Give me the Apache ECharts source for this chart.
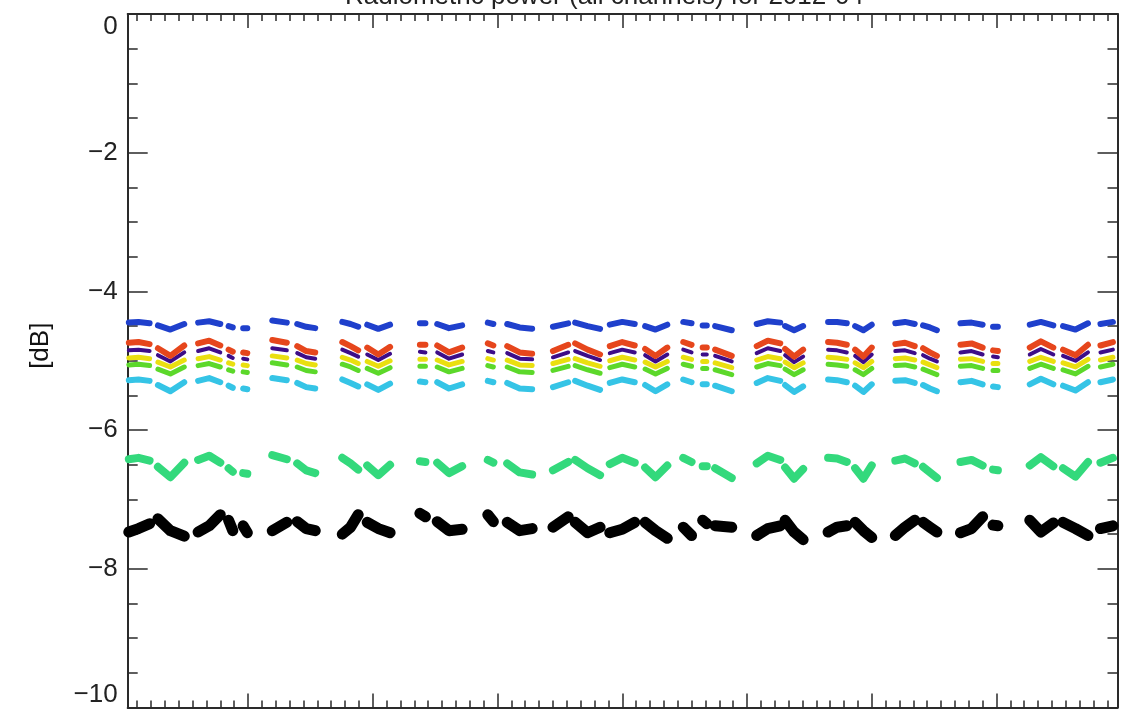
<!DOCTYPE html>
<html>
<head>
<meta charset="utf-8">
<script src="https://cdn.jsdelivr.net/npm/echarts@6/dist/echarts.min.js"></script>
<style>
html,body{margin:0;padding:0;background:#fff;}
#chart{width:1121px;height:709px;}
</style>
</head>
<body>
<div id="chart"></div>
<script>
// x positions (segments separated by null = data gaps)
const xs = [
0.4,1.1,1.9,null,
2.5,3.4,4.4,null,
5.4,6.2,7.0,null,
7.6,7.9,null,
8.65,8.95,null,
10.75,11.8,null,
12.55,13.2,13.85,null,
15.8,16.4,16.95,null,
17.6,18.4,19.25,null,
21.4,21.8,null,
22.65,23.5,24.45,null,
26.3,26.7,null,
27.7,28.6,29.5,null,
31.0,32.1,null,
32.6,33.5,34.4,null,
35.1,36.0,36.9,null,
37.65,38.4,39.25,null,
40.4,41.0,null,
41.8,42.1,null,
42.7,43.9,null,
45.7,46.5,47.4,null,
47.75,48.4,49.05,null,
50.85,51.5,52.2,null,
52.8,53.4,54.0,null,
55.7,56.4,57.1,null,
57.7,58.2,58.7,null,
60.4,61.2,62.0,null,
62.75,63.1,null,
65.4,66.2,67.1,null,
67.8,68.7,69.6,null,
70.5,71.4];

const blueVals = [
-4.45,-4.44,-4.46,null,
-4.49,-4.55,-4.47,null,
-4.45,-4.43,-4.47,null,
-4.50,-4.52,null,
-4.53,-4.53,null,
-4.42,-4.45,null,
-4.47,-4.51,-4.53,null,
-4.44,-4.47,-4.51,null,
-4.48,-4.54,-4.48,null,
-4.46,-4.46,null,
-4.47,-4.53,-4.49,null,
-4.45,-4.47,null,
-4.47,-4.52,-4.54,null,
-4.51,-4.46,null,
-4.45,-4.50,-4.54,null,
-4.48,-4.44,-4.47,null,
-4.50,-4.55,-4.48,null,
-4.44,-4.46,null,
-4.49,-4.49,null,
-4.50,-4.56,null,
-4.47,-4.43,-4.45,null,
-4.50,-4.56,-4.50,null,
-4.44,-4.44,-4.46,null,
-4.50,-4.56,-4.48,null,
-4.46,-4.44,-4.47,null,
-4.49,-4.52,-4.56,null,
-4.46,-4.45,-4.48,null,
-4.51,-4.51,null,
-4.48,-4.44,-4.49,null,
-4.50,-4.55,-4.46,null,
-4.47,-4.44];

const redVals = [
-4.74,-4.73,-4.76,null,
-4.82,-4.93,-4.78,null,
-4.75,-4.71,-4.78,null,
-4.84,-4.87,null,
-4.88,-4.89,null,
-4.70,-4.74,null,
-4.79,-4.86,-4.88,null,
-4.73,-4.79,-4.85,null,
-4.81,-4.91,-4.80,null,
-4.77,-4.77,null,
-4.78,-4.88,-4.81,null,
-4.75,-4.78,null,
-4.79,-4.88,-4.90,null,
-4.86,-4.77,null,
-4.75,-4.84,-4.91,null,
-4.79,-4.73,-4.78,null,
-4.83,-4.93,-4.81,null,
-4.73,-4.77,null,
-4.81,-4.81,null,
-4.84,-4.93,null,
-4.79,-4.71,-4.75,null,
-4.83,-4.94,-4.84,null,
-4.73,-4.74,-4.77,null,
-4.84,-4.94,-4.81,null,
-4.76,-4.74,-4.79,null,
-4.82,-4.88,-4.93,null,
-4.77,-4.75,-4.81,null,
-4.85,-4.86,null,
-4.81,-4.72,-4.81,null,
-4.84,-4.92,-4.77,null,
-4.78,-4.73];

const purpleVals = [
-4.85,-4.84,-4.86,null,
-4.92,-5.01,-4.88,null,
-4.86,-4.82,-4.88,null,
-4.93,-4.96,null,
-4.97,-4.98,null,
-4.82,-4.85,null,
-4.89,-4.95,-4.97,null,
-4.84,-4.89,-4.94,null,
-4.91,-4.99,-4.90,null,
-4.87,-4.88,null,
-4.88,-4.97,-4.91,null,
-4.86,-4.88,null,
-4.89,-4.97,-4.98,null,
-4.95,-4.88,null,
-4.86,-4.93,-4.99,null,
-4.89,-4.84,-4.88,null,
-4.92,-5.01,-4.91,null,
-4.84,-4.88,null,
-4.91,-4.91,null,
-4.93,-5.01,null,
-4.89,-4.82,-4.86,null,
-4.92,-5.02,-4.94,null,
-4.84,-4.85,-4.88,null,
-4.93,-5.02,-4.91,null,
-4.86,-4.85,-4.89,null,
-4.92,-4.97,-5.01,null,
-4.88,-4.86,-4.91,null,
-4.94,-4.95,null,
-4.91,-4.83,-4.91,null,
-4.93,-5.00,-4.88,null,
-4.88,-4.84];

const yellowVals = [
-4.96,-4.95,-4.97,null,
-5.02,-5.09,-4.99,null,
-4.97,-4.94,-4.99,null,
-5.03,-5.05,null,
-5.06,-5.07,null,
-4.93,-4.96,null,
-4.99,-5.04,-5.06,null,
-4.95,-4.99,-5.04,null,
-5.01,-5.08,-5.00,null,
-4.98,-4.98,null,
-4.99,-5.06,-5.01,null,
-4.97,-4.99,null,
-4.99,-5.06,-5.07,null,
-5.04,-4.98,null,
-4.97,-5.03,-5.08,null,
-5.00,-4.95,-4.99,null,
-5.02,-5.09,-5.01,null,
-4.95,-4.98,null,
-5.01,-5.01,null,
-5.03,-5.10,null,
-4.99,-4.94,-4.97,null,
-5.02,-5.10,-5.03,null,
-4.95,-4.96,-4.98,null,
-5.03,-5.10,-5.01,null,
-4.97,-4.96,-4.99,null,
-5.02,-5.06,-5.10,null,
-4.98,-4.97,-5.01,null,
-5.04,-5.04,null,
-5.01,-4.95,-5.01,null,
-5.03,-5.09,-4.98,null,
-4.99,-4.95];

const greenVals = [
-5.06,-5.05,-5.07,null,
-5.12,-5.19,-5.09,null,
-5.07,-5.04,-5.09,null,
-5.13,-5.15,null,
-5.16,-5.17,null,
-5.03,-5.06,null,
-5.09,-5.14,-5.16,null,
-5.05,-5.09,-5.14,null,
-5.11,-5.18,-5.10,null,
-5.08,-5.08,null,
-5.09,-5.16,-5.11,null,
-5.07,-5.09,null,
-5.09,-5.16,-5.17,null,
-5.14,-5.08,null,
-5.07,-5.13,-5.18,null,
-5.10,-5.05,-5.09,null,
-5.12,-5.19,-5.11,null,
-5.05,-5.08,null,
-5.11,-5.11,null,
-5.13,-5.20,null,
-5.09,-5.04,-5.07,null,
-5.12,-5.20,-5.13,null,
-5.05,-5.06,-5.08,null,
-5.13,-5.20,-5.11,null,
-5.07,-5.06,-5.09,null,
-5.12,-5.16,-5.20,null,
-5.08,-5.07,-5.11,null,
-5.14,-5.14,null,
-5.11,-5.05,-5.11,null,
-5.13,-5.19,-5.08,null,
-5.09,-5.05];

const cyanVals = [
-5.28,-5.27,-5.29,null,
-5.35,-5.44,-5.31,null,
-5.29,-5.25,-5.31,null,
-5.36,-5.39,null,
-5.40,-5.41,null,
-5.25,-5.28,null,
-5.32,-5.38,-5.40,null,
-5.27,-5.32,-5.37,null,
-5.34,-5.42,-5.33,null,
-5.30,-5.31,null,
-5.31,-5.40,-5.34,null,
-5.29,-5.31,null,
-5.32,-5.40,-5.41,null,
-5.38,-5.31,null,
-5.29,-5.36,-5.42,null,
-5.32,-5.27,-5.31,null,
-5.35,-5.44,-5.34,null,
-5.27,-5.31,null,
-5.34,-5.34,null,
-5.36,-5.44,null,
-5.32,-5.25,-5.29,null,
-5.35,-5.45,-5.37,null,
-5.27,-5.28,-5.31,null,
-5.36,-5.45,-5.34,null,
-5.29,-5.28,-5.32,null,
-5.35,-5.40,-5.44,null,
-5.31,-5.29,-5.34,null,
-5.37,-5.38,null,
-5.34,-5.26,-5.34,null,
-5.36,-5.43,-5.31,null,
-5.31,-5.27];

const springVals = [
-6.42,-6.40,-6.44,null,
-6.53,-6.68,-6.47,null,
-6.43,-6.37,-6.47,null,
-6.55,-6.60,null,
-6.62,-6.63,null,
-6.36,-6.42,null,
-6.48,-6.58,-6.62,null,
-6.40,-6.48,-6.57,null,
-6.51,-6.65,-6.50,null,
-6.45,-6.46,null,
-6.47,-6.62,-6.52,null,
-6.43,-6.47,null,
-6.48,-6.61,-6.64,null,
-6.58,-6.46,null,
-6.43,-6.55,-6.65,null,
-6.49,-6.40,-6.47,null,
-6.54,-6.68,-6.51,null,
-6.40,-6.46,null,
-6.52,-6.52,null,
-6.55,-6.69,null,
-6.48,-6.37,-6.43,null,
-6.54,-6.70,-6.56,null,
-6.40,-6.41,-6.46,null,
-6.55,-6.70,-6.51,null,
-6.44,-6.41,-6.48,null,
-6.53,-6.61,-6.69,null,
-6.46,-6.43,-6.51,null,
-6.57,-6.58,null,
-6.51,-6.39,-6.52,null,
-6.55,-6.67,-6.46,null,
-6.47,-6.40];

const blackVals = [
-7.47,-7.42,-7.35,null,
-7.28,-7.45,-7.53,null,
-7.47,-7.38,-7.22,null,
-7.30,-7.45,null,
-7.38,-7.48,null,
-7.45,-7.33,null,
-7.32,-7.42,-7.45,null,
-7.50,-7.40,-7.22,null,
-7.33,-7.42,-7.48,null,
-7.20,-7.25,null,
-7.32,-7.45,-7.43,null,
-7.22,-7.32,null,
-7.33,-7.45,-7.42,null,
-7.40,-7.25,null,
-7.33,-7.48,-7.40,null,
-7.48,-7.43,-7.33,null,
-7.33,-7.45,-7.56,null,
-7.40,-7.52,null,
-7.30,-7.35,null,
-7.38,-7.40,null,
-7.52,-7.42,-7.38,null,
-7.30,-7.47,-7.58,null,
-7.47,-7.40,-7.38,null,
-7.33,-7.45,-7.55,null,
-7.52,-7.40,-7.30,null,
-7.33,-7.40,-7.47,null,
-7.48,-7.42,-7.25,null,
-7.37,-7.38,null,
-7.30,-7.47,-7.34,null,
-7.33,-7.42,-7.52,null,
-7.42,-7.38];

// axis tick positions
const xMin = 0.32, xMax = 71.73;
const xMajorTicks = [9, 18, 27, 36, 45, 54, 63];
const xMinorTicks = [];
for (let i = 1; i <= 71; i++) if (i % 9 !== 0) xMinorTicks.push(i);

const titleText = 'Radiometric power (all channels) for 2012-04';
const yName = '[dB]';

function build(vals) {
  return xs.map((x, i) => x === null ? [xs[i - 1], '-'] : [x, vals[i]]);
}

const chart = echarts.init(document.getElementById('chart'), null, {renderer: 'canvas'});
const axisColor = '#2a2a2a';
const fontFam = 'Liberation Sans, DejaVu Sans, sans-serif';

function xAx(pos, ticks, len, showLine) {
  return {
    type: 'value', position: pos, min: xMin, max: xMax,
    axisLine: {show: showLine, onZero: false, lineStyle: {color: axisColor, width: 2}},
    axisTick: {show: true, inside: true, length: len, customValues: ticks, lineStyle: {color: axisColor, width: 1.5}},
    axisLabel: {show: false},
    splitLine: {show: false}
  };
}
function yAx(pos, showLabel) {
  return {
    type: 'value', position: pos, min: -10, max: 0, interval: 2,
    axisLine: {show: true, onZero: false, lineStyle: {color: axisColor, width: 2}},
    axisTick: {show: true, inside: true, length: 20, lineStyle: {color: axisColor, width: 1.5}},
    minorTick: {show: true, splitNumber: 4, length: 10, lineStyle: {color: axisColor, width: 1.5}},
    axisLabel: {
      show: showLabel, margin: 10, fontSize: 26, color: '#222', fontFamily: fontFam,
      verticalAlignMaxLabel: 'top', verticalAlignMinLabel: 'bottom',
      formatter: v => v < 0 ? '\u2212' + Math.abs(v) : String(v)
    },
    splitLine: {show: false},
    name: showLabel ? yName : '',
    nameLocation: 'middle', nameGap: 74,
    nameTextStyle: {fontSize: 26, color: '#111', fontFamily: fontFam, padding: [0, 0, 0, 30]}
  };
}

function ser(name, vals, color, width, z) {
  return {
    name: name, type: 'line', xAxisIndex: 0, yAxisIndex: 0,
    data: build(vals), showSymbol: false, connectNulls: false,
    lineStyle: {color: color, width: width, join: 'round', cap: 'round'},
    z: z, silent: true, animation: false
  };
}

chart.setOption({
  backgroundColor: '#fff',
  animation: false,
  title: {
    text: titleText, left: 340, top: -21,
    textStyle: {fontSize: 26, fontWeight: 'normal', color: '#222', fontFamily: fontFam}
  },
  grid: {left: 127.7, right: 3.5, top: 14, bottom: 1.5, containLabel: false},
  xAxis: [
    xAx('bottom', xMajorTicks, 14, true),
    xAx('bottom', xMinorTicks, 7, false),
    xAx('top', xMajorTicks, 14, true),
    xAx('top', xMinorTicks, 7, false)
  ],
  yAxis: [yAx('left', true), yAx('right', false)],
  series: [
    ser('ch8', blackVals, '#000000', 11, 2),
    ser('ch7', springVals, '#33d97c', 8, 2),
    ser('ch6', cyanVals, '#35c4e6', 6, 2),
    ser('ch5', greenVals, '#5cd82a', 5, 3),
    ser('ch4', yellowVals, '#eadf10', 5, 4),
    ser('ch3', purpleVals, '#3d0d88', 4, 5),
    ser('ch2', redVals, '#e6461c', 6, 6),
    ser('ch1', blueVals, '#1f40cc', 6, 7)
  ]
});
</script>
</body>
</html>
